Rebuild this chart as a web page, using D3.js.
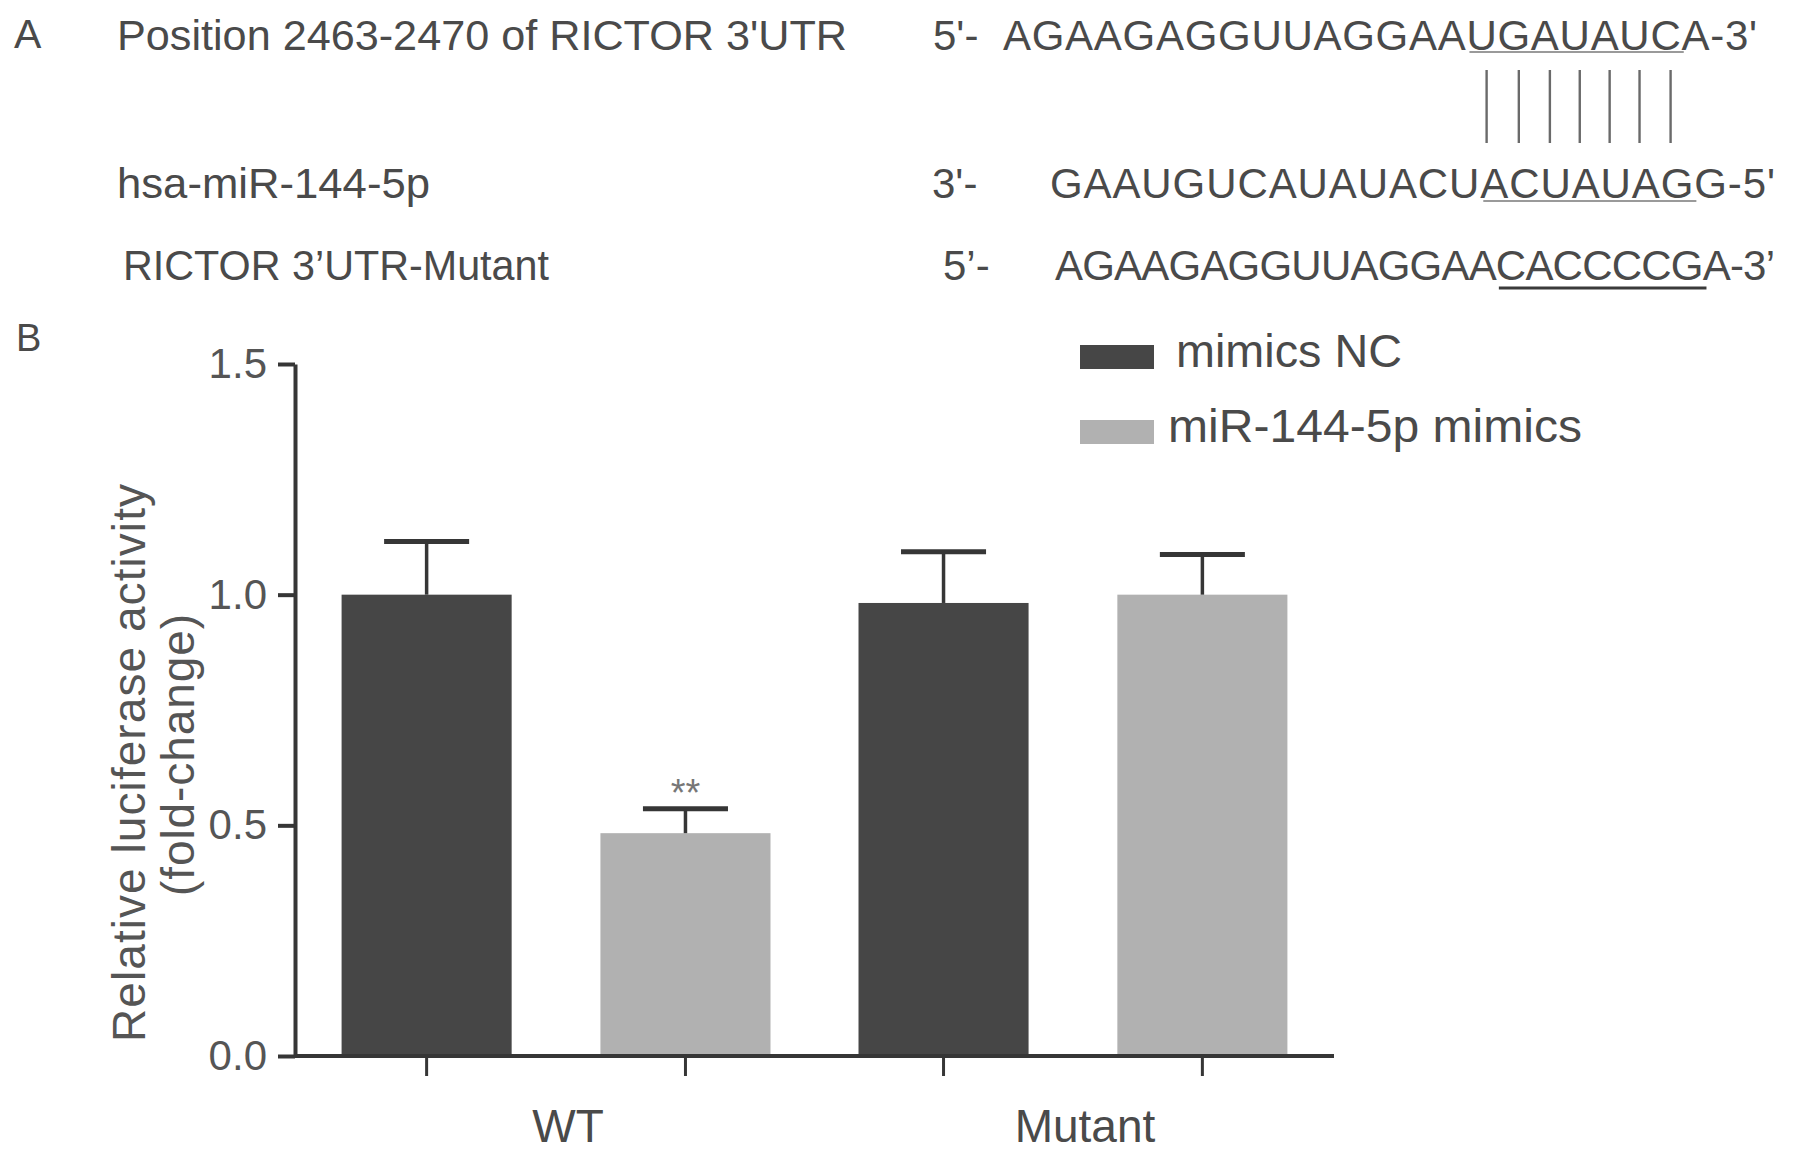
<!DOCTYPE html>
<html>
<head>
<meta charset="utf-8">
<script src="https://cdn.jsdelivr.net/npm/d3@7"></script>
<style>
  html, body { margin: 0; padding: 0; background: #fff; }
  svg { display: block; font-family: "Liberation Sans", Arial, sans-serif; }
</style>
</head>
<body>
<svg id="chart" width="1795" height="1157"></svg>
<script>
// ---------------- DATA ----------------
const groups = ["WT", "Mutant"];
const series = ["mimics NC", "miR-144-5p mimics"];
const meanNC = [1.00, 0.982];
const meanMimic = [0.483, 1.00];
const semNC = [0.115, 0.111];
const semMimic = [0.053, 0.087];
const sigMimic = ["**", ""];
const yTicks = [0.0, 0.5, 1.0, 1.5];
const yLabelLines = ["Relative luciferase activity", "(fold-change)"];

// Panel A text content
const seqNames = ["Position 2463-2470 of RICTOR 3'UTR", "hsa-miR-144-5p", "RICTOR 3\u2019UTR-Mutant"];
const seqPrefixes = ["5'-", "3'-", "5\u2019-"];
const sequences = ["AGAAGAGGUUAGGAAUGAUAUCA-3'", "GAAUGUCAUAUACUACUAUAGG-5'", "AGAAGAGGUUAGGAACACCCCGA-3\u2019"];
const seedStart = [15, 14, 15];   // first underlined character index
const seedLength = [7, 7, 7];      // number of underlined characters

// ---------------- LAYOUT ----------------
const svg = d3.select("#chart");
const C = { text: "#4a4a4a", tick: "#555", axis: "#363636", dark: "#464646", light: "#b1b1b1" };
const rowLayout = [
  { y: 50,  nameX: 117, nameEnd: 847, preX: 933, seqX: 1003, seqEnd: 1757, ulY: 52,  ulW: 2,   ulC: "#9a9a9a" },
  { y: 198, nameX: 117, nameEnd: 430, preX: 932, seqX: 1050, seqEnd: 1775, ulY: 201, ulW: 2,   ulC: "#9a9a9a" },
  { y: 280, nameX: 123, nameEnd: 549, preX: 943, seqX: 1055, seqEnd: 1775, ulY: 288, ulW: 3.2, ulC: "#3a3a3a" }
];

// Panel letters
svg.append("text").attr("x", 14).attr("y", 48).attr("font-size", 41).attr("fill", C.text).text("A");
svg.append("text").attr("x", 16).attr("y", 351).attr("font-size", 38).attr("fill", C.text).text("B");

// Panel A rows
const seqNodes = [];
sequences.forEach((s, i) => {
  const L = rowLayout[i];
  svg.append("text").attr("x", L.nameX).attr("y", L.y).attr("font-size", 42).attr("fill", C.text)
    .attr("textLength", L.nameEnd - L.nameX).attr("lengthAdjust", "spacingAndGlyphs").text(seqNames[i]);
  svg.append("text").attr("x", L.preX).attr("y", L.y).attr("font-size", 42).attr("fill", C.text).text(seqPrefixes[i]);
  const t = svg.append("text").attr("x", L.seqX).attr("y", L.y).attr("font-size", 42).attr("fill", C.text)
    .attr("textLength", L.seqEnd - L.seqX).attr("lengthAdjust", "spacing").text(s);
  seqNodes.push(t.node());
});

// Underlines of seed regions
seqNodes.forEach((node, i) => {
  const L = rowLayout[i];
  const x1 = node.getStartPositionOfChar(seedStart[i]).x + 3;
  const x2 = node.getEndPositionOfChar(seedStart[i] + seedLength[i] - 1).x + 3;
  svg.append("line").attr("x1", x1).attr("x2", x2).attr("y1", L.ulY).attr("y2", L.ulY)
    .attr("stroke", L.ulC).attr("stroke-width", L.ulW);
});

// Pairing lines between row 1 seed and row 2
const pairIdx = d3.range(seedLength[0]).map(k => seedStart[0] + k);
const charMid = k => (seqNodes[0].getStartPositionOfChar(k).x + seqNodes[0].getEndPositionOfChar(k).x) / 2 + 5;
svg.selectAll("line.pair").data(pairIdx).join("line").attr("class", "pair")
  .attr("x1", charMid).attr("x2", charMid)
  .attr("y1", 70).attr("y2", 143).attr("stroke", "#6a6a6a").attr("stroke-width", 2.4);

// ---------------- PANEL B ----------------
const plot = { left: 295, right: 1334, top: 364, bottom: 1056 };
const y = d3.scaleLinear().domain([0, 1.5]).range([plot.bottom, plot.top]);
const x0 = d3.scaleBand().domain(groups).range([plot.left, plot.right]).paddingInner(0).paddingOuter(0.005);
const x1 = d3.scaleBand().domain(series).range([0, x0.bandwidth()]).paddingInner(0.343).paddingOuter(0.17);
const color = d3.scaleOrdinal().domain(series).range([C.dark, C.light]);

const rows = [];
groups.forEach((g, i) => {
  rows.push({ group: g, series: series[0], mean: meanNC[i], sem: semNC[i], sig: "" });
  rows.push({ group: g, series: series[1], mean: meanMimic[i], sem: semMimic[i], sig: sigMimic[i] });
});
const cx = d => x0(d.group) + x1(d.series) + x1.bandwidth() / 2;

// Bars
svg.selectAll("rect.bar").data(rows).join("rect").attr("class", "bar")
  .attr("x", d => x0(d.group) + x1(d.series))
  .attr("width", x1.bandwidth())
  .attr("y", d => y(d.mean))
  .attr("height", d => y(0) - y(d.mean))
  .attr("fill", d => color(d.series));

// Error bars
svg.selectAll("line.err").data(rows).join("line").attr("class", "err")
  .attr("x1", cx).attr("x2", cx)
  .attr("y1", d => y(d.mean)).attr("y2", d => y(d.mean + d.sem))
  .attr("stroke", C.axis).attr("stroke-width", 3.5);
svg.selectAll("line.cap").data(rows).join("line").attr("class", "cap")
  .attr("x1", d => cx(d) - x1.bandwidth() / 4).attr("x2", d => cx(d) + x1.bandwidth() / 4)
  .attr("y1", d => y(d.mean + d.sem)).attr("y2", d => y(d.mean + d.sem))
  .attr("stroke", C.axis).attr("stroke-width", 5);

// Significance
svg.selectAll("text.sig").data(rows.filter(d => d.sig)).join("text").attr("class", "sig")
  .attr("x", cx).attr("y", d => y(d.mean + d.sem) - 3)
  .attr("text-anchor", "middle").attr("font-size", 38).attr("fill", "#777").text(d => d.sig);

// Y axis
const yAxis = svg.append("g").attr("transform", `translate(${plot.left},0)`)
  .call(d3.axisLeft(y).tickValues(yTicks).tickFormat(d3.format(".1f")).tickSize(17).tickSizeOuter(0).tickPadding(11));
yAxis.select(".domain").attr("stroke", C.axis).attr("stroke-width", 4);
yAxis.selectAll(".tick line").attr("stroke", C.axis).attr("stroke-width", 4);
yAxis.selectAll(".tick text").attr("font-size", 42).attr("fill", C.tick)
  .attr("font-family", "'Liberation Sans', Arial, sans-serif");

// X axis baseline
svg.append("line").attr("x1", plot.left).attr("x2", plot.right).attr("y1", y(0)).attr("y2", y(0))
  .attr("stroke", C.axis).attr("stroke-width", 4);
// X ticks at each bar
svg.selectAll("line.xtick").data(rows).join("line").attr("class", "xtick")
  .attr("x1", cx).attr("x2", cx).attr("y1", y(0)).attr("y2", y(0) + 20)
  .attr("stroke", C.axis).attr("stroke-width", 3);
// Group labels
svg.selectAll("text.glabel").data(groups).join("text").attr("class", "glabel")
  .attr("x", g => x0(g) + x0.bandwidth() / 2 + 12).attr("y", 1142)
  .attr("text-anchor", "middle").attr("font-size", 46).attr("fill", C.text).text(g => g);

// Y label
const yl = [{ x: 145, y: 763, len: 558 }, { x: 194, y: 755, len: 282 }];
yLabelLines.forEach((s, i) => {
  svg.append("text").attr("transform", `translate(${yl[i].x},${yl[i].y}) rotate(-90)`)
    .attr("text-anchor", "middle").attr("font-size", 46).attr("fill", C.tick)
    .attr("textLength", yl[i].len).attr("lengthAdjust", "spacing").text(s);
});

// Legend
const legY = [345, 420];
const legTextLayout = [{ x: 1176, len: 226 }, { x: 1168, len: 414 }];
series.forEach((s, i) => {
  svg.append("rect").attr("x", 1080).attr("y", legY[i]).attr("width", 74).attr("height", 24).attr("fill", color(s));
  svg.append("text").attr("x", legTextLayout[i].x).attr("y", legY[i] + 22).attr("font-size", 47)
    .attr("textLength", legTextLayout[i].len).attr("lengthAdjust", "spacingAndGlyphs")
    .attr("fill", C.text).text(s);
});
</script>
</body>
</html>
